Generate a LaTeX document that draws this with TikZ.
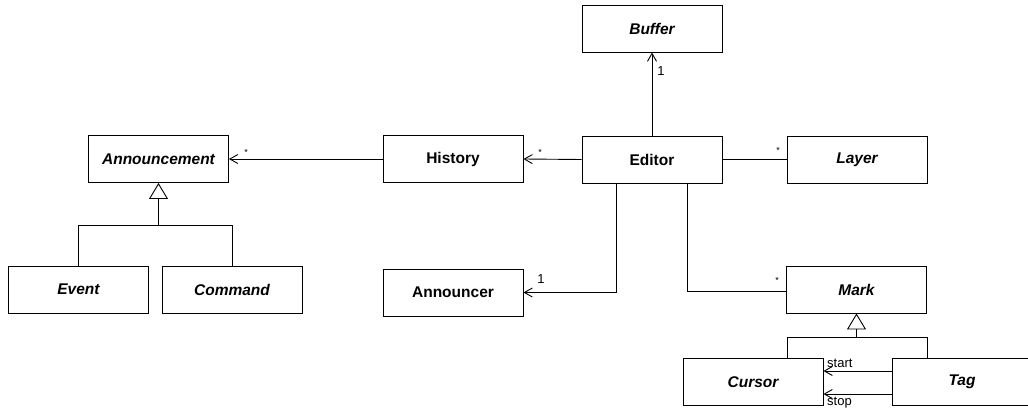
\documentclass[tikz,border=0pt]{standalone}
\usepackage{fontspec}
\setmainfont{Liberation Sans}
\usetikzlibrary{arrows.meta}
\tikzset{
  cls/.style={draw, line width=0.9pt, minimum width=140pt, minimum height=47pt, inner sep=0pt, font=\fontsize{15.5}{18}\selectfont\bfseries},
  abs/.style={cls, font=\fontsize{15.5}{18}\selectfont\bfseries\itshape},
  assoc/.style={line width=0.9pt, -{Straight Barb[length=8pt,width=9pt,line width=0.9pt]}},
  plain/.style={line width=0.9pt},
  inh/.style={line width=1.4pt, -{Triangle[open,length=16pt,width=19pt,line width=0.9pt]}},
  lbl/.style={font=\fontsize{13}{15}\selectfont, inner sep=1pt},
  star/.style={font=\fontsize{9}{10}\selectfont, inner sep=1pt}
}
\begin{document}
\begin{tikzpicture}[x=1pt,y=-1pt]
\useasboundingbox (0,0) rectangle (1028,409);
\node[abs] (buffer) at (652,28.5) {Buffer};
\node[cls] (editor) at (652,159.5) {Editor};
\node[abs] (announcement) at (158.5,159) {Announcement};
\node[cls] (history) at (453,159) {History};
\node[abs] (layer) at (857,159.5) {Layer};
\node[abs] (event) at (78.5,289.5) {Event};
\node[abs] (command) at (232,289.5) {Command};
\node[cls] (announcer) at (453,292.5) {Announcer};
\node[abs] (mark) at (856.5,289.5) {Mark};
\node[abs] (cursor) at (753,382) {Cursor};
\node[abs] (tag) at (962,382) {Tag};

% Editor -> Buffer
\draw[assoc] (editor.north) -- (buffer.south);
\node[lbl] at (661,71) {1};
% History -> Announcement
\draw[assoc] (history.west) -- (announcement.east);
\node[star] at (246,152) {*};
% Editor -> History
\draw[assoc] (editor.west) -- (history.east);
\node[star] at (540,152) {*};
% Editor -- Layer
\draw[plain] (editor.east) -- (layer.west);
\node[star] at (778,150) {*};
% Editor -> Announcer
\coordinate (ea) at (616,183);
\draw[assoc] (ea) |- (announcer.east);
\node[lbl] at (541,279) {1};
% Editor -- Mark
\coordinate (em) at (687,183);
\coordinate (mk) at (786,291);
\draw[plain] (em) |- (mk);
\node[star] at (777,280) {*};

% Announcement inheritance
\coordinate (ab) at (158.5,225);
\draw[plain] (event.north) |- (command.north |- ab) -- (command.north);
\draw[inh] (ab) -- (announcement.south);
% Mark inheritance
\coordinate (mb) at (856.5,337);
\draw[plain] (787,358) |- (927,337) -- (927,358);
\draw[inh] (mb) -- (mark.south);

% Tag -> Cursor
\coordinate (ts) at (892,371);
\coordinate (tp) at (892,394);
\draw[assoc] (ts) -- (cursor.east |- ts);
\draw[assoc] (tp) -- (cursor.east |- tp);
\node[lbl, anchor=west] at (826,363) {start};
\node[lbl, anchor=west] at (826,403) {stop};
\end{tikzpicture}
\end{document}
